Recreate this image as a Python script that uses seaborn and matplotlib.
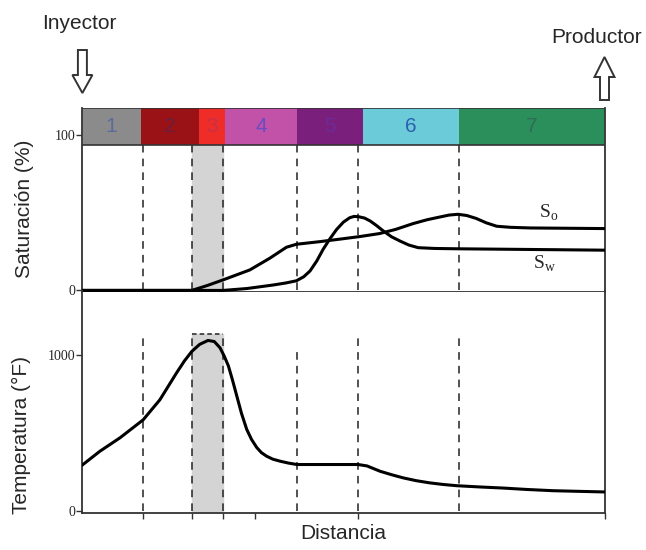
import matplotlib
matplotlib.use("Agg")
import matplotlib.pyplot as plt
import matplotlib.patches as mpatches
import pandas as pd
import seaborn as sns

# zones along the distance axis (0 = injector, 100 = producer)
zone_labels = ["1", "2", "3", "4", "5", "6", "7"]
zone_edges = [0, 11.3, 22.4, 27.3, 41.2, 53.7, 72.0, 100]
zone_colors = ["#8b8b8b", "#9a1216", "#ee2d28", "#c152a8", "#7b1f7c", "#6ccbd9", "#2b8f5b"]
zone_text = ["#5a6b9c", "#6a1e3e", "#c83048", "#6a4cc0", "#6b2c98", "#2c60b0", "#2e6e55"]

front_x = [11.7, 21.0, 27.0, 41.1, 52.8, 72.1]
burn_zone = (21.0, 27.0)

# saturation profiles (%)
so_x = [0, 21.0, 24.0, 27.0, 32.1, 35.9, 39.1, 41.0, 45.5, 49.3, 53.2, 56.9, 60.0, 63.3,
        66.0, 68.5, 70.2, 71.9, 73.6, 75.4, 77.3, 79.3, 82.0, 85.7, 100]
so_y = [0, 0, 3.2, 6.8, 13.2, 20.7, 27.8, 29.7, 31.4, 33.0, 34.7, 36.6, 39.3, 43.0,
        45.5, 47.3, 48.5, 49.0, 48.2, 46.3, 43.5, 41.3, 40.6, 40.2, 39.8]
sw_x = [0, 27.0, 31.5, 36.6, 39.0, 41.0, 42.4, 43.6, 44.9, 46.1, 47.4, 48.7, 50.0, 51.2,
        52.0, 52.8, 54.0, 55.1, 56.3, 57.6, 59.2, 60.8, 62.5, 64.3, 67.5, 71.6, 100]
sw_y = [0, 0, 1.2, 3.5, 4.8, 6.2, 8.8, 12.5, 19.0, 26.4, 33.2, 39.3, 44.0, 46.8,
        47.6, 47.5, 46.6, 44.7, 41.8, 38.3, 34.5, 31.8, 29.2, 27.5, 27.0, 26.8, 25.9]

# temperature profile (°F)
t_x = [0, 3.4, 7.3, 11.7, 14.9, 18.1, 19.6, 21.0, 22.5, 24.1, 25.3, 26.4, 27.2, 28.0,
       28.8, 29.6, 30.5, 31.5, 32.4, 33.4, 34.3, 35.3, 36.5, 37.9, 39.5, 41.1, 52.8,
       54.5, 57.0, 59.2, 61.4, 63.9, 66.5, 69.0, 71.6, 76.0, 80.5, 85.0, 90.1, 95.0, 100]
t_y = [294, 383, 470, 584, 712, 884, 960, 1020, 1065, 1090, 1083, 1043, 990, 927,
       835, 736, 625, 523, 460, 408, 375, 352, 333, 320, 308, 299, 299,
       290, 256, 234, 214, 196, 182, 172, 164, 156, 149, 140, 132, 128, 124]

sns.set_theme(style="white")
plt.rcParams["font.family"] = ["Liberation Sans", "DejaVu Sans"]

fig = plt.figure(figsize=(6.46, 5.5), dpi=100)
ax1 = fig.add_axes([0.1269, 0.470, 0.8096, 0.3336])
ax2 = fig.add_axes([0.1269, 0.0673, 0.8096, 0.4027])

# --- saturation panel ---
band_lo, band_hi = 93.6, 117.4
for lab, x0, x1, c, tc in zip(zone_labels, zone_edges[:-1], zone_edges[1:], zone_colors, zone_text):
    ax1.add_patch(mpatches.Rectangle((x0, band_lo), x1 - x0, band_hi - band_lo,
                                     facecolor=c, edgecolor="none", zorder=3))
    ax1.text((x0 + x1) / 2, (band_lo + band_hi) / 2, lab, ha="center", va="center",
             fontsize=15, color=tc, zorder=4)
ax1.add_patch(mpatches.Rectangle((0, band_lo), 100, band_hi - band_lo, facecolor="none",
                                 edgecolor="#333333", lw=1.2, zorder=5))
ax1.axvspan(*burn_zone, ymin=0, ymax=(band_lo + 0.7) / 118.1, color="#d4d4d4", zorder=1)
for x in front_x:
    ax1.plot([x, x], [0, band_lo], ls=(0, (5, 4)), color="#222222", lw=1.1, zorder=2)

sat = pd.DataFrame({"x": so_x + sw_x, "y": so_y + sw_y,
                    "fase": ["So"] * len(so_x) + ["Sw"] * len(sw_x)})
sns.lineplot(data=sat, x="x", y="y", units="fase", estimator=None, color="black",
             lw=2.2, ax=ax1, zorder=6)
ax1.text(87.3, 47, "S$_\\mathregular{o}$", family="Liberation Serif", fontsize=14)
ax1.text(86.3, 14, "S$_\\mathregular{w}$", family="Liberation Serif", fontsize=14)

ax1.set_xlim(0, 100)
ax1.set_ylim(-0.7, 117.4)
ax1.set_yticks([0, 100])
ax1.set_xticks([])
ax1.set_xlabel("")
ax1.set_ylabel("Saturación (%)", fontsize=15)
ax1.yaxis.set_label_coords(-0.092, 0.45)
ax1.spines["top"].set_visible(False)

# --- temperature panel ---
ax2.axvspan(*burn_zone, ymin=10 / 1412, ymax=1138 / 1412, color="#d4d4d4", zorder=1)
ax2.plot([burn_zone[0], burn_zone[1]], [1130, 1130], ls=(0, (3, 2)), color="#222222", lw=1.1)
for x in front_x:
    top = 1030 if x == 41.1 else 1130
    ax2.plot([x, x], [0, top], ls=(0, (5, 4)), color="#222222", lw=1.1, zorder=2)
sns.lineplot(x=t_x, y=t_y, color="black", lw=2.2, ax=ax2, zorder=6)

ax2.set_xlim(0, 100)
ax2.set_ylim(-10, 1402)
ax2.set_yticks([0, 1000])
ax2.set_xticks([11.7, 21.0, 27.0, 33.0, 52.8, 100])
ax2.set_xticklabels([])
ax2.set_ylabel("Temperatura (°F)", fontsize=15)
ax2.yaxis.set_label_coords(-0.098, 0.35)
ax2.set_xlabel("Distancia", fontsize=15, labelpad=3)
ax2.spines["top"].set_visible(False)

for ax in (ax1, ax2):
    for s in ["left", "right", "bottom"]:
        ax.spines[s].set_color("#333333")
        ax.spines[s].set_linewidth(1.3)
    ax.tick_params(axis="both", direction="out", length=4, width=1, color="#333333",
                   left=True, bottom=True, pad=1)
    for t in ax.get_yticklabels():
        t.set_fontfamily("Liberation Serif")
        t.set_fontsize(10)

# injector / producer arrows
fig.text(0.123, 0.958, "Inyector", ha="center", va="center", fontsize=15)
fig.text(0.924, 0.931, "Productor", ha="center", va="center", fontsize=15)
fig.add_artist(mpatches.FancyArrow(0.824, 5.0, 0, -0.43, width=0.09, head_width=0.2,
                                   head_length=0.18, length_includes_head=True,
                                   facecolor="white", edgecolor="#333333", lw=1.4,
                                   transform=fig.dpi_scale_trans))
fig.add_artist(mpatches.FancyArrow(6.045, 4.5, 0, 0.43, width=0.09, head_width=0.2,
                                   head_length=0.2, length_includes_head=True,
                                   facecolor="white", edgecolor="#333333", lw=1.4,
                                   transform=fig.dpi_scale_trans))

fig.savefig("out.png", dpi=100)
